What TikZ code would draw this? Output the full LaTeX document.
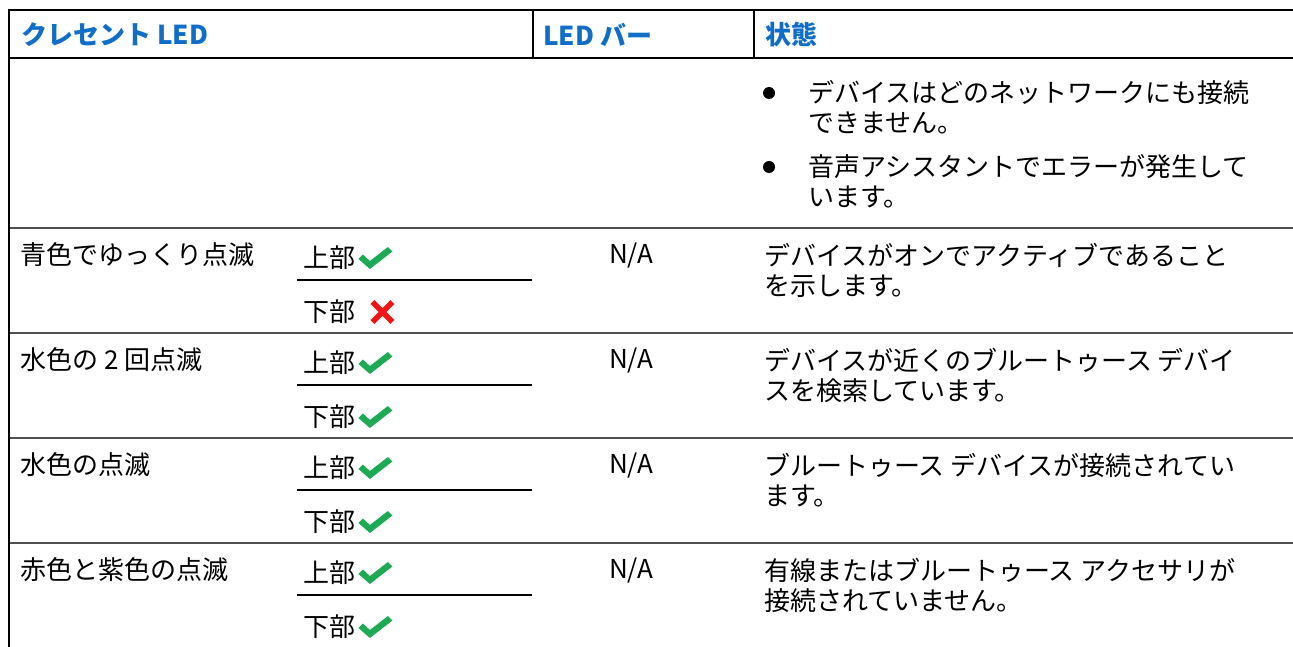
\documentclass[tikz,border=0pt]{standalone}
\usepackage{fontspec}
\setmainfont{Noto Sans CJK JP}
\definecolor{hdrblue}{RGB}{16,110,200}
\definecolor{chkgreen}{RGB}{30,170,85}
\definecolor{xred}{RGB}{240,20,20}
\definecolor{sepgray}{RGB}{80,80,80}
\tikzset{
  txt/.style={anchor=west,inner sep=0pt,font=\fontsize{26}{30}\selectfont,align=left},
  hdr/.style={anchor=west,inner sep=0pt,font=\fontsize{26}{30}\selectfont\bfseries,text=hdrblue},
  mid/.style={anchor=center,inner sep=0pt,font=\fontsize{26}{30}\selectfont},
  hdrline/.style={line width=2.2pt,black},
  sepline/.style={line width=2pt,sepgray},
  subline/.style={line width=1.6pt,black},
  bullet/.style={circle,fill=black,inner sep=0pt,minimum size=12pt},
  chk/.pic={\fill[chkgreen] (0,1) -- (4.5,-3.5) -- (11.5,3) -- (29.5,-11) -- (34,-6.5) -- (11.5,11) -- cycle;},
  crs/.pic={\draw[xred,line width=5.5pt] (0,-10) -- (20,10) (0,10) -- (20,-10);}
}
\begin{document}
\begin{tikzpicture}[x=1pt,y=-1pt]
\useasboundingbox (0,0) rectangle (1293,647);
% grid
\draw[hdrline] (8,10) -- (1293,10);
\draw[hdrline] (8,58) -- (1293,58);
\draw[hdrline] (533,10) -- (533,58);
\draw[hdrline] (754,10) -- (754,58);
\draw[hdrline] (9,9) -- (9,647);
\foreach \s in {228,333,438,543}{
  \draw[sepline] (10,\s) -- (1293,\s);
  \draw[subline] (297,\s+52) -- (532,\s+52);
}
% header
\node[hdr] (h1) at (21,35) {クレセント LED};
\node[hdr] (h2) at (543,35) {LED バー};
\node[hdr] (h3) at (765,35) {状態};
% row 0
\node[bullet] (b1) at (769,93) {};
\node[txt] (s0a) at (808,107.5) {デバイスはどのネットワークにも接続\\できません。};
\node[bullet] (b2) at (769,167) {};
\node[txt] (s0b) at (808,181.5) {音声アシスタントでエラーが発生して\\います。};
% row 1
\node[txt] (l1) at (20,255) {青色でゆっくり点滅};
\node[txt] (u1) at (303,258) {上部};
\node[txt] (d1) at (303,312) {下部};
\pic at ([xshift=3pt]u1.east) {chk};
\pic at ([xshift=17pt]d1.east) {crs};
\node[mid] (n1) at (631,256) {N/A};
\node[txt] (s1) at (764,270) {デバイスがオンでアクティブであること\\を示します。};
% row 2
\node[txt] (l2) at (20,360) {水色の 2 回点滅};
\node[txt] (u2) at (303,363) {上部};
\node[txt] (d2) at (303,417) {下部};
\pic at ([xshift=3pt]u2.east) {chk};
\pic at ([xshift=3pt]d2.east) {chk};
\node[mid] (n2) at (631,361) {N/A};
\node[txt] (s2) at (764,375) {デバイスが近くのブルートゥース デバイ\\スを検索しています。};
% row 3
\node[txt] (l3) at (20,465) {水色の点滅};
\node[txt] (u3) at (303,468) {上部};
\node[txt] (d3) at (303,522) {下部};
\pic at ([xshift=3pt]u3.east) {chk};
\pic at ([xshift=3pt]d3.east) {chk};
\node[mid] (n3) at (631,466) {N/A};
\node[txt] (s3) at (764,480) {ブルートゥース デバイスが接続されてい\\ます。};
% row 4
\node[txt] (l4) at (20,570) {赤色と紫色の点滅};
\node[txt] (u4) at (303,573) {上部};
\node[txt] (d4) at (303,627) {下部};
\pic at ([xshift=3pt]u4.east) {chk};
\pic at ([xshift=3pt]d4.east) {chk};
\node[mid] (n4) at (631,571) {N/A};
\node[txt] (s4) at (764,585) {有線またはブルートゥース アクセサリが\\接続されていません。};
\end{tikzpicture}
\end{document}
